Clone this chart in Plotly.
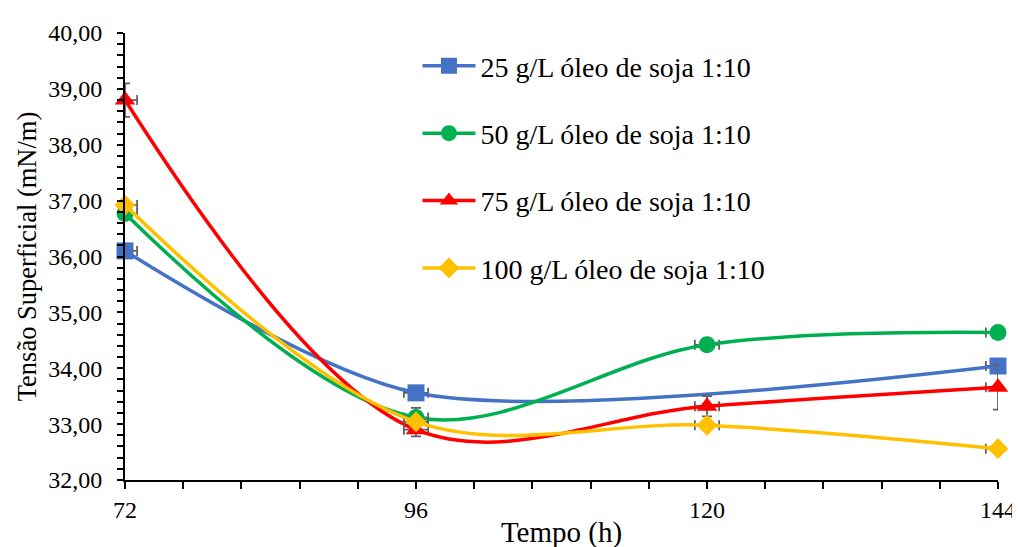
import plotly.graph_objects as go

# Data
series_names = ["25 g/L óleo de soja 1:10", "50 g/L óleo de soja 1:10",
                "75 g/L óleo de soja 1:10", "100 g/L óleo de soja 1:10"]
x_25 = [72, 96, 144]
y_25 = [36.10, 33.56, 34.04]
e_25 = [0.05, 0.08, 0.05]

x_50 = [72, 96, 120, 144]
y_50 = [36.77, 33.12, 34.42, 34.64]
e_50 = [0.05, 0.17, 0.05, 0.05]

x_75 = [72, 96, 120, 144]
y_75 = [38.80, 32.90, 33.32, 33.66]
e_75 = [0.30, 0.12, 0.18, 0.40]

x_100 = [72, 96, 120, 144]
y_100 = [36.92, 33.04, 32.98, 32.56]
e_100 = [0.05, 0.05, 0.06, 0.05]

x_err = 1.0

colors = ["#4472C4", "#00B050", "#FF0000", "#FFC000"]
symbols = ["square", "circle", "triangle-up", "diamond"]
sizes = [17, 17, 18, 16]
smooth = [0.8, 1, 1, 1]

fig = go.Figure()
data = [(x_25, y_25, e_25), (x_50, y_50, e_50), (x_75, y_75, e_75), (x_100, y_100, e_100)]
for i, (xs, ys, es) in enumerate(data):
    fig.add_trace(go.Scatter(
        x=xs, y=ys, name=series_names[i], mode="lines+markers",
        line=dict(color=colors[i], width=3.5, shape="spline", smoothing=smooth[i]),
        marker=dict(symbol=symbols[i], size=sizes[i], color=colors[i]),
        error_y=dict(type="data", array=es, visible=True, color="#606060", thickness=1.8, width=5),
        error_x=dict(type="constant", value=x_err, visible=True, color="#606060", thickness=1.8, width=5),
        cliponaxis=False, legendgroup=f"g{i}",
    ))

font_family = "Liberation Serif"
fig.update_layout(
    width=1020, height=547,
    margin=dict(l=117, r=20, t=25, b=62),
    plot_bgcolor="white", paper_bgcolor="white",
    separators=",.",
    font=dict(family=font_family, size=24, color="black"),
    showlegend=True,
    legend=dict(x=0.335, y=0.982, xanchor="left", yanchor="top",
                font=dict(family=font_family, size=28, color="black"),
                tracegroupgap=28, bgcolor="rgba(0,0,0,0)", itemwidth=53),
    xaxis=dict(range=[72, 144], tickvals=[72, 96, 120, 144], showgrid=False, zeroline=False,
               showline=True, linecolor="black", linewidth=2,
               ticks="outside", ticklen=7, tickwidth=1.5, tickcolor="black",
               minor=dict(dtick=4.8, tick0=72, ticks="outside", ticklen=7, tickwidth=1.5, tickcolor="black", showgrid=False),
               tickfont=dict(family=font_family, size=24),
               title=dict(text="Tempo (h)", font=dict(family=font_family, size=29), standoff=0)),
    yaxis=dict(range=[32, 40], dtick=1, tick0=32, tickformat=".2f", showgrid=False, zeroline=False,
               showline=True, linecolor="black", linewidth=2,
               ticks="outside", ticklen=6, tickwidth=1.5, tickcolor="black",
               minor=dict(dtick=0.2, ticks="outside", ticklen=6, tickwidth=1.5, tickcolor="black", showgrid=False),
               tickfont=dict(family=font_family, size=24), ticklabelstandoff=10,
               title=dict(text="Tensão Superficial (mN/m)", font=dict(family=font_family, size=26.5), standoff=4)),
)

fig.write_html("out.html")
